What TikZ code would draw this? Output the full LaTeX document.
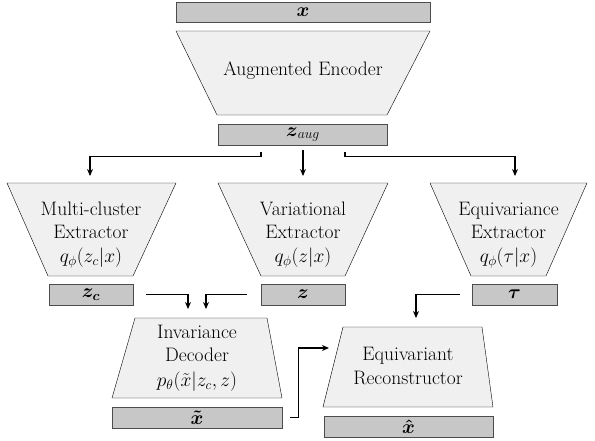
\RequirePackage{fix-cm}
\documentclass[tikz,border=0pt]{standalone}
\usepackage{amsmath}
\usepackage[no-math]{fontspec}
\usetikzlibrary{arrows.meta}

\begin{document}
\begin{tikzpicture}[x=1pt,y=-1pt,font=\fontsize{19.5}{23.5}\selectfont]
        \tikzstyle{bar}=[draw=black!70,fill=black!22,inner sep=0pt,minimum height=21pt]
        \tikzstyle{block}=[draw=black,fill=black!6]
        \tikzstyle{arrow}=[line width=1.2pt,-{Stealth[length=7pt,width=6pt]},shorten >=7pt,shorten <=7pt]

        \useasboundingbox (0,0) rectangle (595,440);

        % encoder
        \node (xin)[bar, minimum width=254pt, minimum height=20pt] at (303,12) {$\boldsymbol{x}$};
        \draw[block] (176,31) -- (430,31) -- (387,115) -- (217,115) -- cycle;
        \node (enc)[align=center] at (303,71) {Augmented Encoder};
        \node (zaug)[bar, minimum width=169pt] at (303,134.5) {$\boldsymbol{z}_{aug}$};

        % extractors
        \draw[block] (7,183) -- (176,183) -- (133,276) -- (48,276) -- cycle;
        \node (mcext)[align=center] at (91,235) {Multi-cluster\\Extractor\\$q_\phi(z_c|x)$};
        \coordinate (mctop) at (90,183);
        \node (zc)[bar, minimum width=84pt] at (91,294.5) {$\boldsymbol{z_c}$};

        \draw[block] (218,183) -- (388,183) -- (345,276) -- (261,276) -- cycle;
        \node (varext)[align=center] at (303,235) {Variational\\Extractor\\$q_\phi(z|x)$};
        \coordinate (vartop) at (303,183);
        \node (zv)[bar, minimum width=84pt] at (303,294.5) {$\boldsymbol{z}$};

        \draw[block] (430,183) -- (587,183) -- (546,276) -- (471,276) -- cycle;
        \node (eqext)[align=center] at (508.5,235) {Equivariance\\Extractor\\$q_\phi(\tau|x)$};
        \coordinate (eqtop) at (515,183);
        \node (ztau)[bar, minimum width=85pt] at (514.5,294.5) {$\boldsymbol{\tau}$};

        % decoder and reconstructor
        \draw[block] (135,318) -- (267,318) -- (282,398) -- (112,398) -- cycle;
        \node (invdec)[align=center] at (197,358) {Invariance\\Decoder\\[1pt]$p_\theta(\tilde{x}|z_c,z)$};
        \coordinate (decinl) at (188,318);
        \coordinate (decinr) at (206,318);
        \node (xtil)[bar, minimum width=170pt] at (197,417.5) {$\boldsymbol{\tilde{x}}$};

        \draw[block] (343,327) -- (482,327) -- (493,407) -- (323,407) -- cycle;
        \node (eqrec)[align=center] at (408,366) {Equivariant\\Reconstructor};
        \coordinate (rectop) at (416,327);
        \coordinate (recin) at (338,348);
        \node (xhat)[bar, minimum width=169pt] at (408.5,426.5) {$\boldsymbol{\hat{x}}$};

        \draw[arrow] ([xshift=-42pt]zaug.south) -- ++(0,11) -| (mctop);
        \draw[arrow, shorten <=5pt] (zaug.south) -- (vartop);
        \draw[arrow] ([xshift=42pt]zaug.south) -- ++(0,11) -| (eqtop);

        \draw[arrow, shorten <=13pt, shorten >=9pt] (zc.east) -| (decinl);
        \draw[arrow, shorten <=14pt, shorten >=9pt] (zv.west) -| (decinr);
        \draw[arrow, shorten <=12pt, shorten >=9pt] (ztau.west) -| (rectop);
        \draw[arrow, shorten <=8pt, shorten >=9pt] (xtil.east) -- ++(16,0) |- (recin);
    \end{tikzpicture}
\end{document}
